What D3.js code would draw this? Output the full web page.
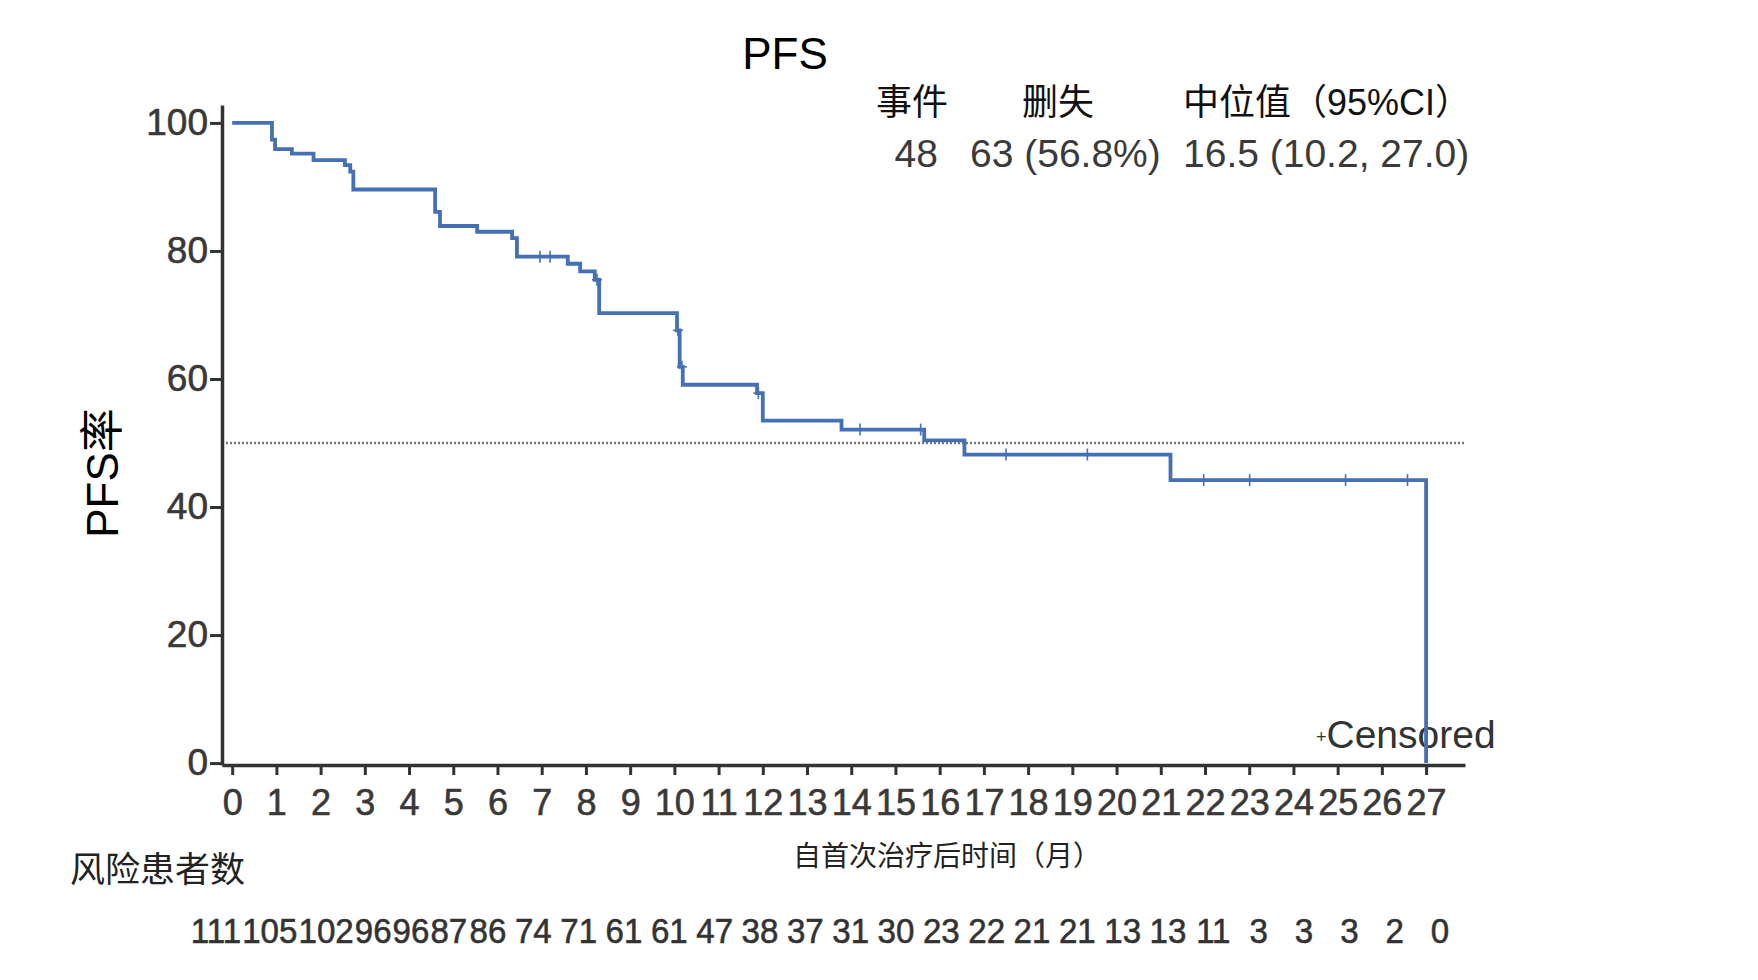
<!DOCTYPE html>
<html><head><meta charset="utf-8">
<script src="https://cdn.jsdelivr.net/npm/d3@7"></script>
<style>
html,body{margin:0;padding:0;background:#fff;}
svg{display:block;}
text{font-family:"Liberation Sans", Arial, "Noto Sans CJK SC", sans-serif;}
</style></head><body>
<svg id="c" width="1758" height="980"></svg>
<script>
// ---- data ----
const monthTicks = [0,1,2,3,4,5,6,7,8,9,10,11,12,13,14,15,16,17,18,19,20,21,22,23,24,25,26,27];
const yTicks = [0,20,40,60,80,100];
const stepTimes  = [0,0.90,0.97,1.35,1.84,2.55,2.67,2.74,4.59,4.70,5.54,6.33,6.44,7.59,7.87,8.20,8.30,10.06,10.12,10.19,11.87,12.00,13.78,15.65,16.56,21.22,27.0];
const stepValues = [100,97.4,95.9,95.2,94.2,93.4,92.4,89.6,86.1,83.9,83.0,82.0,79.1,78.0,76.8,75.5,70.3,67.6,61.9,59.1,57.8,53.5,52.1,50.4,48.2,44.2,0];
const censorTimes = [6.96,7.19,8.25,10.08,10.17,11.9,14.2,15.57,17.5,19.34,21.97,23.01,25.18,26.58];
const riskCounts = [111,105,102,96,96,87,86,74,71,61,61,47,38,37,31,30,23,22,21,21,13,13,11,3,3,3,2,0];
const summaryHeaders = ["事件","删失","中位值（95%CI）"];
const summaryValues = ["48","63 (56.8%)","16.5 (10.2, 27.0)"];
const medianLine = 50;

// ---- chart ----
const svg = d3.select("#c");
svg.append("rect").attr("width",1758).attr("height",980).attr("fill","#fff");

const x = d3.scaleLinear().domain([-0.23, 27.88]).range([222, 1465]);
const y = d3.scaleLinear().domain([-0.3, 102.8]).range([765, 105]);
const rx = d3.scaleLinear().domain([0, 27]).range([216, 1440]);

const axisColor = "#333";
const labelColor = "#3b3838";
const curveColor = "#4570b5";

// median reference line
svg.append("line")
  .attr("x1", x.range()[0]).attr("x2", x.range()[1])
  .attr("y1", y(medianLine)).attr("y2", y(medianLine))
  .attr("stroke", "#777").attr("stroke-width", 2.4).attr("stroke-dasharray", "2,2");

// x axis
const gx = svg.append("g").attr("transform", `translate(0,${y.range()[0]})`)
  .call(d3.axisBottom(x).tickValues(monthTicks).tickSize(10).tickSizeOuter(0).tickPadding(14));
gx.attr("font-family", null).attr("font-size", null);
gx.select(".domain").attr("stroke", axisColor).attr("stroke-width", 3.5);
gx.selectAll(".tick line").attr("stroke", axisColor).attr("stroke-width", 3);
gx.selectAll(".tick text").attr("font-size", 36).attr("fill", labelColor)
  .attr("stroke", labelColor).attr("stroke-width", 0.6);

// y axis
const gy = svg.append("g").attr("transform", `translate(${x.range()[0]},0)`)
  .call(d3.axisLeft(y).tickValues(yTicks).tickSize(12).tickSizeOuter(0).tickPadding(2));
gy.attr("font-family", null).attr("font-size", null);
gy.select(".domain").attr("stroke", axisColor).attr("stroke-width", 3.5);
gy.selectAll(".tick line").attr("stroke", axisColor).attr("stroke-width", 3);
gy.selectAll(".tick text").attr("font-size", 37).attr("fill", labelColor)
  .attr("stroke", labelColor).attr("stroke-width", 0.6);

// titles
svg.append("text").attr("x", 785).attr("y", 69).attr("text-anchor", "middle")
  .attr("font-size", 44).attr("fill", "#000").text("PFS");

svg.append("text").attr("transform", "translate(118,473) rotate(-90)").attr("text-anchor", "middle")
  .attr("font-size", 44).attr("fill", "#000").text("PFS率");

svg.append("text").attr("x", 793).attr("y", 866)
  .attr("font-size", 28).attr("fill", "#222").text("自首次治疗后时间（月）");

svg.append("text").attr("x", 70).attr("y", 882)
  .attr("font-size", 35).attr("fill", "#222").text("风险患者数");

// summary header
const headerX = [876, 1022, 1183];
svg.selectAll(".hdr").data(summaryHeaders).join("text").attr("class", "hdr")
  .attr("x", (d, i) => headerX[i]).attr("y", 115)
  .attr("font-size", 36).attr("fill", "#111").text(d => d);
const valX = [938, 970, 1183];
const valAnchor = ["end", "start", "start"];
svg.selectAll(".val").data(summaryValues).join("text").attr("class", "val")
  .attr("x", (d, i) => valX[i]).attr("y", 167)
  .attr("text-anchor", (d, i) => valAnchor[i])
  .attr("font-size", 39).attr("fill", "#3a3a3a").text(d => d);

// censored legend
const leg = svg.append("text").attr("x", 1316).attr("y", 748).attr("fill", "#333");
leg.append("tspan").attr("font-size", 18).attr("dy", -5).text("+");
leg.append("tspan").attr("font-size", 39).attr("dy", 5).text("Censored");

// KM curve
const pts = stepTimes.map((t, i) => ({t, v: stepValues[i]}));
const line = d3.line().x(d => x(d.t)).y(d => y(d.v)).curve(d3.curveStepAfter);
svg.append("path").datum(pts).attr("d", line)
  .attr("fill", "none").attr("stroke", curveColor).attr("stroke-width", 3.8)
  .attr("stroke-linejoin", "miter");

// censor marks
const surv = t => stepValues[d3.bisectRight(stepTimes, t) - 1];
const cm = svg.append("g").attr("stroke", curveColor).attr("stroke-width", 1.6);
censorTimes.forEach(t => {
  const cx = x(t), cy = y(surv(t));
  cm.append("line").attr("x1", cx).attr("x2", cx).attr("y1", cy - 6).attr("y2", cy + 6);
  cm.append("line").attr("x1", cx - 5).attr("x2", cx + 5).attr("y1", cy).attr("y2", cy);
});

// number at risk row (packed so labels never overlap)
const rs = 0.92;
const rg = svg.append("g").attr("fill", "#333").attr("stroke", "#333").attr("stroke-width", 0.6);
let prevRight = -Infinity;
riskCounts.forEach((n, i) => {
  const t = rg.append("text").attr("font-size", 36).attr("text-anchor", "middle").text(n);
  const w = t.node().getComputedTextLength() * rs;
  let left = rx(monthTicks[i]) - w / 2;
  if (left < prevRight + 1) left = prevRight + 1;
  const c = left + w / 2;
  prevRight = left + w;
  t.attr("transform", `translate(${c},943) scale(${rs},1)`);
});
</script>
</body></html>
